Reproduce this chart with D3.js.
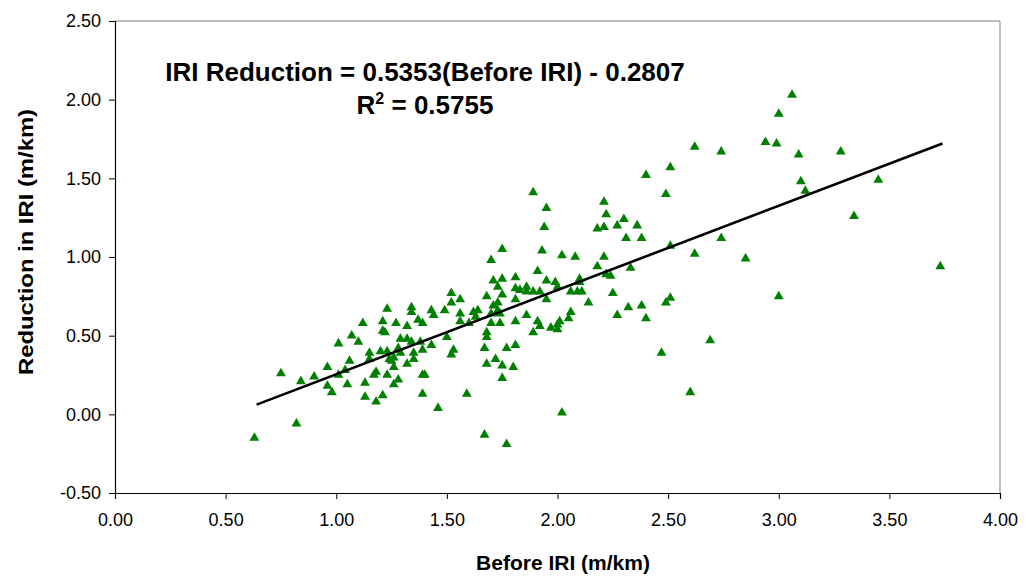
<!DOCTYPE html>
<html>
<head>
    <meta charset="UTF-8">
    <title>IRI Reduction</title>
    <style>
        body { margin: 0; background-color: #FFFFFF; }
        svg { background-color: #FFFFFF; font-family: "Liberation Sans", Arial, sans-serif; }
    </style>
</head>
<body>
    <div id="graph-container"></div>
    <script src="https://cdn.jsdelivr.net/npm/d3@7"></script>
    <script>
        // before IRI (m/km) and the reduction measured after treatment
        let beforeIRI = [
            0.63, 0.82, 0.75, 0.84, 0.90, 0.96, 0.96, 0.98, 1.01, 1.01, 1.04, 1.05, 1.06, 1.07, 1.10, 1.12, 1.13, 1.13, 1.15,
            1.52, 1.52, 1.56, 1.23, 1.34, 1.34, 1.43, 1.44, 1.49, 1.56, 1.62, 1.64, 1.21, 1.27, 1.32, 1.37, 1.39, 1.56, 1.60,
            1.21, 1.22, 1.29, 1.32, 1.34, 1.38, 1.43, 1.50, 1.20, 1.23, 1.28, 1.29, 1.39, 1.35, 1.53, 1.52, 1.15, 1.24, 1.26,
            1.25, 1.35, 1.32, 1.26, 1.18, 1.17, 1.23, 1.39, 1.40, 1.28, 1.26, 1.18, 1.21, 1.39, 1.59, 1.46, 1.63,
            1.89, 1.95, 1.94, 1.75, 1.93, 1.70, 2.02, 2.08, 1.91, 1.81, 1.71, 1.75, 1.73, 1.95, 1.99, 2.00, 1.81, 1.83, 1.86,
            1.86, 1.89, 1.92, 1.75, 1.68, 1.81, 1.95, 2.06, 2.09, 2.11, 1.73, 1.71, 1.73, 1.74, 1.70, 1.86, 1.70, 1.74, 1.81,
            1.91, 1.92, 2.06, 2.05, 2.01, 2.00, 1.97, 2.00, 1.89, 1.68, 1.68, 1.67, 1.77, 1.81, 1.72, 1.68, 1.75, 1.80, 1.75,
            2.02, 1.67, 1.77,
            2.40, 2.51, 2.49, 2.21, 2.22, 2.30, 2.18, 2.21, 2.27, 2.36, 2.31, 2.38, 2.21, 2.18, 2.51, 2.62, 2.33, 2.10, 2.10,
            2.22, 2.24, 2.25, 2.14, 2.32, 2.38, 2.51, 2.49, 2.27, 2.40, 2.47, 2.60,
            3.06, 3.00, 2.62, 2.74, 2.94, 2.99, 3.09, 3.28, 3.10, 3.12, 2.74, 2.85, 3.00, 2.69, 3.45, 3.34, 3.73
        ];
        let reduction = [
            -0.15, -0.06, 0.26, 0.21, 0.24, 0.30, 0.18, 0.14, 0.45, 0.25, 0.28, 0.19, 0.34, 0.50, 0.46, 0.58, 0.20, 0.11, 0.39,
            0.77, 0.71, 0.73, 0.67, 0.68, 0.65, 0.66, 0.63, 0.66, 0.64, 0.65, 0.66, 0.59, 0.58, 0.56, 0.60, 0.58, 0.59, 0.58,
            0.53, 0.52, 0.48, 0.48, 0.46, 0.46, 0.44, 0.49, 0.40, 0.40, 0.42, 0.39, 0.41, 0.39, 0.41, 0.38, 0.35, 0.35, 0.36,
            0.34, 0.35, 0.32, 0.30, 0.27, 0.25, 0.25, 0.25, 0.25, 0.22, 0.19, 0.08, 0.12, 0.13, 0.13, 0.04, 0.62,
            1.41, 1.31, 1.19, 1.05, 1.04, 0.98, 1.01, 1.00, 0.91, 0.87, 0.85, 0.86, 0.81, 0.85, 0.84, 0.81, 0.80, 0.79, 0.81,
            0.78, 0.78, 0.78, 0.76, 0.75, 0.73, 0.73, 0.78, 0.78, 0.78, 0.71, 0.69, 0.66, 0.64, 0.64, 0.63, 0.58, 0.58, 0.59,
            0.59, 0.56, 0.65, 0.61, 0.59, 0.57, 0.55, 0.54, 0.52, 0.52, 0.49, 0.42, 0.42, 0.44, 0.35, 0.32, 0.31, 0.30, 0.23,
            0.01, -0.13, -0.19,
            1.52, 1.57, 1.40, 1.35, 1.27, 1.24, 1.18, 1.19, 1.20, 1.20, 1.12, 1.12, 1.00, 0.94, 1.07, 1.02, 0.93, 0.86, 0.84,
            0.89, 0.88, 0.77, 0.71, 0.68, 0.69, 0.74, 0.71, 0.63, 0.61, 0.39, 0.14,
            2.03, 1.91, 1.70, 1.67, 1.73, 1.72, 1.65, 1.67, 1.48, 1.42, 1.12, 0.99, 0.75, 0.47, 1.49, 1.26, 0.94
        ];
        // fitted line: IRI Reduction = 0.5353(Before IRI) - 0.2807
        let slope = 0.5353, intercept = -0.2807;
        let fitRange = [0.64, 3.74];
        let xTicks = [0, 0.5, 1, 1.5, 2, 2.5, 3, 3.5, 4];
        let yTicks = [-0.5, 0, 0.5, 1, 1.5, 2, 2.5];

        let margin = { top: 21, right: 25, bottom: 83, left: 115 },
            width = 1025 - margin.left - margin.right,
            height = 576 - margin.top - margin.bottom;

        let x = d3.scaleLinear().domain([0, 4]).range([0, width]);
        let y = d3.scaleLinear().domain([-0.5, 2.5]).range([height, 0]);

        let svg = d3.select("#graph-container").append("svg")
            .attr("width", 1025)
            .attr("height", 576);
        let g = svg.append("g")
            .attr("transform", "translate(" + margin.left + "," + margin.top + ")");

        // plot area frame (top and right)
        g.append("path")
            .attr("d", "M0,0H" + width + "V" + height)
            .attr("fill", "none")
            .attr("stroke", "#808080")
            .attr("stroke-width", 1);

        let fmt = d => d.toFixed(2);

        let xAxis = g.append("g")
            .attr("transform", "translate(0," + height + ")")
            .call(d3.axisBottom(x).tickValues(xTicks).tickFormat(fmt).tickSize(6).tickPadding(14));
        let yAxis = g.append("g")
            .call(d3.axisLeft(y).tickValues(yTicks).tickFormat(fmt).tickSize(6).tickPadding(8));

        [xAxis, yAxis].forEach(a => {
            a.select(".domain").attr("stroke", "#000").attr("stroke-width", 1.2);
            a.selectAll(".tick line").attr("stroke", "#000");
            a.selectAll("text")
                .attr("font-family", "'Liberation Sans', Arial, sans-serif")
                .attr("font-size", 18)
                .attr("fill", "#000");
        });

        // points
        let points = beforeIRI.map((v, i) => ({ x: v, y: reduction[i] }));
        g.selectAll(".point")
            .data(points)
            .enter()
            .append("path")
            .attr("class", "point")
            .attr("d", d3.symbol().type(d3.symbolTriangle).size(42))
            .attr("fill", "#008000")
            .attr("transform", d => "translate(" + x(d.x) + "," + y(d.y) + ")");

        // trend line
        g.append("line")
            .attr("x1", x(fitRange[0]))
            .attr("y1", y(slope * fitRange[0] + intercept))
            .attr("x2", x(fitRange[1]))
            .attr("y2", y(slope * fitRange[1] + intercept))
            .attr("stroke", "#000")
            .attr("stroke-width", 2.6);

        // equation
        svg.append("text")
            .attr("x", 425)
            .attr("y", 81)
            .attr("text-anchor", "middle")
            .attr("font-weight", "bold")
            .attr("font-size", 26)
            .text("IRI Reduction = 0.5353(Before IRI) - 0.2807");
        let r2 = svg.append("text")
            .attr("x", 425)
            .attr("y", 114)
            .attr("text-anchor", "middle")
            .attr("font-weight", "bold")
            .attr("font-size", 26);
        r2.append("tspan").text("R");
        r2.append("tspan").attr("dy", -10).attr("font-size", 16).text("2");
        r2.append("tspan").attr("dy", 10).text(" = 0.5755");

        // axis titles
        svg.append("text")
            .attr("x", 563)
            .attr("y", 570)
            .attr("text-anchor", "middle")
            .attr("font-weight", "bold")
            .attr("font-size", 21)
            .text("Before IRI (m/km)");
        svg.append("text")
            .attr("transform", "translate(33,242) rotate(-90)")
            .attr("text-anchor", "middle")
            .attr("font-weight", "bold")
            .attr("font-size", 20)
            .attr("textLength", 266)
            .attr("lengthAdjust", "spacingAndGlyphs")
            .text("Reduction in IRI (m/km)");
    </script>
</body>
</html>
